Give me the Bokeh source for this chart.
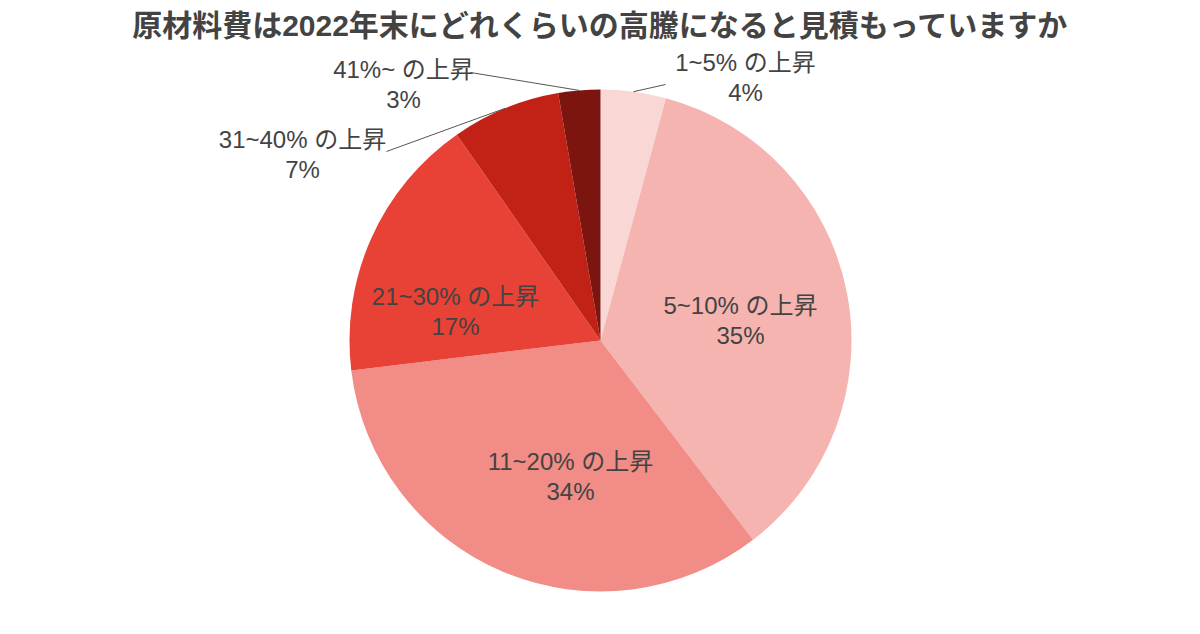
import numpy as np
from bokeh.core.properties import value
from bokeh.embed import file_html
from bokeh.models import ColumnDataSource, Range1d
from bokeh.plotting import figure
from bokeh.resources import INLINE

# data (clockwise from 12 o'clock)
categories = ["1~5% の上昇", "5~10% の上昇", "11~20% の上昇", "21~30% の上昇", "31~40% の上昇", "41%~ の上昇"]
shares = [4.2, 35.4, 33.5, 17.2, 7.0, 2.7]
colors = ["#f9d7d4", "#f5b4af", "#f18d86", "#e84135", "#c22116", "#7c150f"]
title = "原材料費は2022年末にどれくらいの高騰になると見積もっていますか"

W, H = 1184, 618
FONT = "'Liberation Sans', 'Noto Sans CJK JP'"
TXT = "#434343"

# helper: screenshot pixel -> data coords (y flipped)
def px(x, y):
    return x, 634 - y

cx, cy = px(600, 340)
R = 251

vals = np.array(shares)
frac = vals / vals.sum()
cum_end = np.cumsum(frac)
cum_start = cum_end - frac
start = np.pi / 2 - cum_end * 2 * np.pi
end = np.pi / 2 - cum_start * 2 * np.pi
mid = (start + end) / 2

src = ColumnDataSource(dict(start=start, end=end, color=colors))

p = figure(width=W, height=H, x_range=Range1d(0, W), y_range=Range1d(634 - H, 634),
           output_backend="svg", toolbar_location=None, min_border=0, outline_line_color=None)
p.axis.visible = False
p.grid.visible = False

p.wedge(x=cx, y=cy, radius=R, start_angle="start", end_angle="end", direction="anticlock",
        fill_color="color", line_color=None, source=src)

# label positions (layout, in screenshot pixels)
label_pos = [(745, 77), (740, 320), (570, 476), (455, 311), (302, 154), (403, 84)]
leader_start = {0: (665, 84), 4: (386, 151), 5: (470, 72)}

texts = [f"{c}\n{round(s)}%" for c, s in zip(categories, shares)]
lx = [px(*q)[0] for q in label_pos]
ly = [px(*q)[1] for q in label_pos]
p.text(x=lx, y=ly, text=texts, text_font=value(FONT), text_font_size="24px",
       text_color=TXT, text_align="center", text_baseline="middle", text_line_height=1.12)

for i, (sx, sy) in leader_start.items():
    ex = cx + R * np.cos(mid[i])
    ey = cy + R * np.sin(mid[i])
    x0, y0 = px(sx, sy)
    p.line([x0, ex], [y0, ey], line_color="#555555", line_width=1)

tx, ty = px(600, 25)
p.text(x=[tx], y=[ty], text=[title], text_font=value(FONT), text_font_size="30px",
       text_font_style="bold", text_color=TXT, text_align="center", text_baseline="middle")

open("out.html", "w").write(file_html(p, INLINE))
